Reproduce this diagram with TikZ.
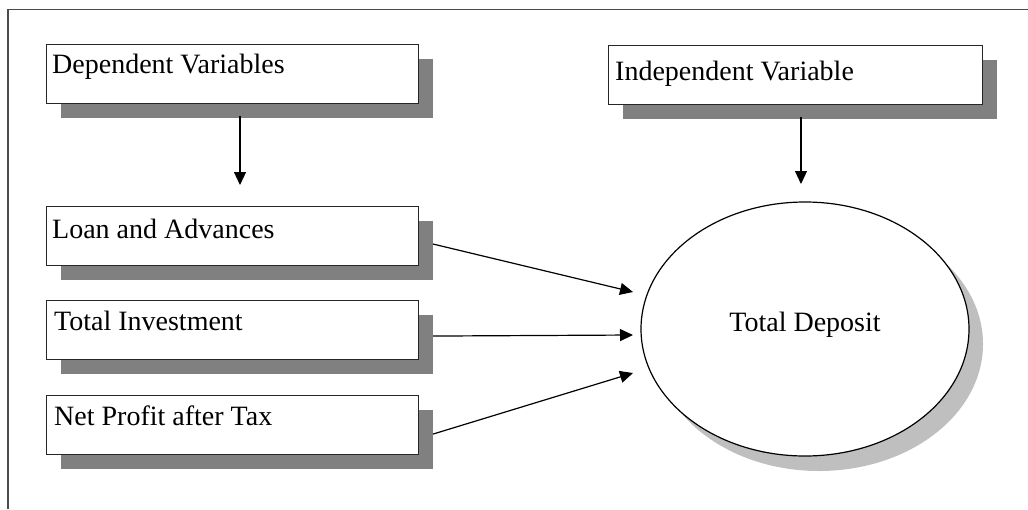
\documentclass[tikz,border=0pt]{standalone}
\usepackage{fontspec}
\setmainfont{Liberation Serif}
\usetikzlibrary{shapes.geometric,shadows,arrows.meta}
\tikzset{
  box/.style={draw=black!85, line width=1.1pt, fill=white, rectangle, inner sep=0pt,
    minimum width=372pt, minimum height=59pt, anchor=north west,
    drop shadow={shadow xshift=14pt, shadow yshift=-14pt, fill=black!50, opacity=1}},
  lbl/.style={inner sep=0pt, anchor=base west, font=\fontsize{28}{31}\selectfont},
  conn/.style={line width=1.2pt, -{Triangle[length=13pt,width=12pt]}},
}
\begin{document}
\begin{tikzpicture}[x=1pt,y=-1pt]
\useasboundingbox (0,0) rectangle (1028,509);
\fill[white] (0,0) rectangle (1028,509);
\draw[black!70, line width=1.2pt] (8,509) -- (8,9.5) -- (1028,9.5);

\node[box] (dep) at (46,44) {};
\node[lbl] (depl) at ([shift={(6,29)}]dep.north west) {Dependent Variables};
\node[box, minimum width=374pt] (ind) at (608,45) {};
\node[lbl] (indl) at ([shift={(7,35)}]ind.north west) {Independent Variable};
\node[box] (loan) at (46,206) {};
\node[lbl] (loanl) at ([shift={(6,32)}]loan.north west) {Loan and Advances};
\node[box] (inv) at (46,300) {};
\node[lbl] (invl) at ([shift={(8,30)}]inv.north west) {Total Investment};
\node[box] (npat) at (46,395) {};
\node[lbl] (npatl) at ([shift={(8,30)}]npat.north west) {Net Profit after Tax};

\node[ellipse, draw=black, line width=1.2pt, fill=white, minimum width=328pt, minimum height=254pt, inner sep=0pt,
  drop shadow={shadow xshift=14pt, shadow yshift=-15pt, fill=black!25, opacity=1}] (dep2) at (805,329) {};
\node[inner sep=0pt, font=\fontsize{28}{31}\selectfont] (tdl) at (805,325) {Total Deposit};

\coordinate (s1) at (240,116);
\coordinate (t1) at (240,185);
\coordinate (s2) at (801,117);
\coordinate (t2) at (801,184);
\coordinate (t3) at (633,292);
\coordinate (t4) at (633,335);
\coordinate (t5) at (633,373);

\draw[conn] (s1) -- (t1);
\draw[conn] (s2) -- (t2);
\draw[conn] ([shift={(14,8)}]loan.east) -- (t3);
\draw[conn] ([shift={(14,6)}]inv.east) -- (t4);
\draw[conn] ([shift={(14,9)}]npat.east) -- (t5);
\end{tikzpicture}
\end{document}
